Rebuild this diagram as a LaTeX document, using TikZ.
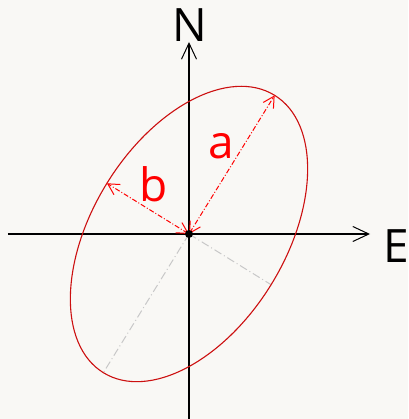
\documentclass[tikz,border=0pt]{standalone}
\usepackage{fontspec}
\setmainfont{Open Sans}
\usetikzlibrary{arrows.meta}
\definecolor{bgc}{RGB}{249,248,245}
\definecolor{ellc}{RGB}{204,16,16}
\definecolor{redc}{RGB}{255,0,0}
\definecolor{greyc}{RGB}{200,200,200}
\tikzset{
  axis/.style={line width=1.1pt, black, -{Straight Barb[length=16pt,width=15pt,line width=1pt]}},
  semiaxis/.style={line width=1pt, redc, dash pattern=on 5pt off 2pt on 1pt off 2pt,
    {Straight Barb[length=11pt,width=12pt,line width=1pt]}-{Straight Barb[length=11pt,width=12pt,line width=1pt]}},
  greyline/.style={line width=1pt, greyc, dash pattern=on 8pt off 3pt on 1pt off 3pt},
  lbl/.style={font=\fontsize{46}{50}\selectfont, anchor=base, inner sep=0pt},
}
\begin{document}
\begin{tikzpicture}[x=1pt,y=1pt]
\fill[bgc] (-189,-185) rectangle (219,234);
\useasboundingbox (-189,-185) rectangle (219,234);
\coordinate (O) at (0,0);
\coordinate (S) at (0,-185);
\coordinate (Ntip) at (0,192);
\coordinate (W) at (-181,0);
\coordinate (Etip) at (181,0);
\coordinate (A1) at (58.3:163);
\coordinate (A2) at (238.3:163);
\coordinate (B1) at (148.3:96.5);
\coordinate (B2) at (328.3:96.5);
\draw[axis] (S) -- (Ntip);
\draw[axis] (W) -- (Etip);
\draw[greyline] (O) -- (A2);
\draw[greyline] (O) -- (B2);
\draw[ellc, line width=1.1pt] (O) ellipse[x radius=163, y radius=96.5, rotate=58.3];
\draw[semiaxis] (O) -- (A1);
\draw[semiaxis] (O) -- (B1);
\fill[black] (O) circle (4);
\node[lbl] (N) at (1,192) {N};
\node[lbl] (E) at (207,-29) {E};
\node[lbl, text=redc] (a) at (32.5,75) {a};
\node[lbl, text=redc] (b) at (-35,32) {b};
\end{tikzpicture}
\end{document}
